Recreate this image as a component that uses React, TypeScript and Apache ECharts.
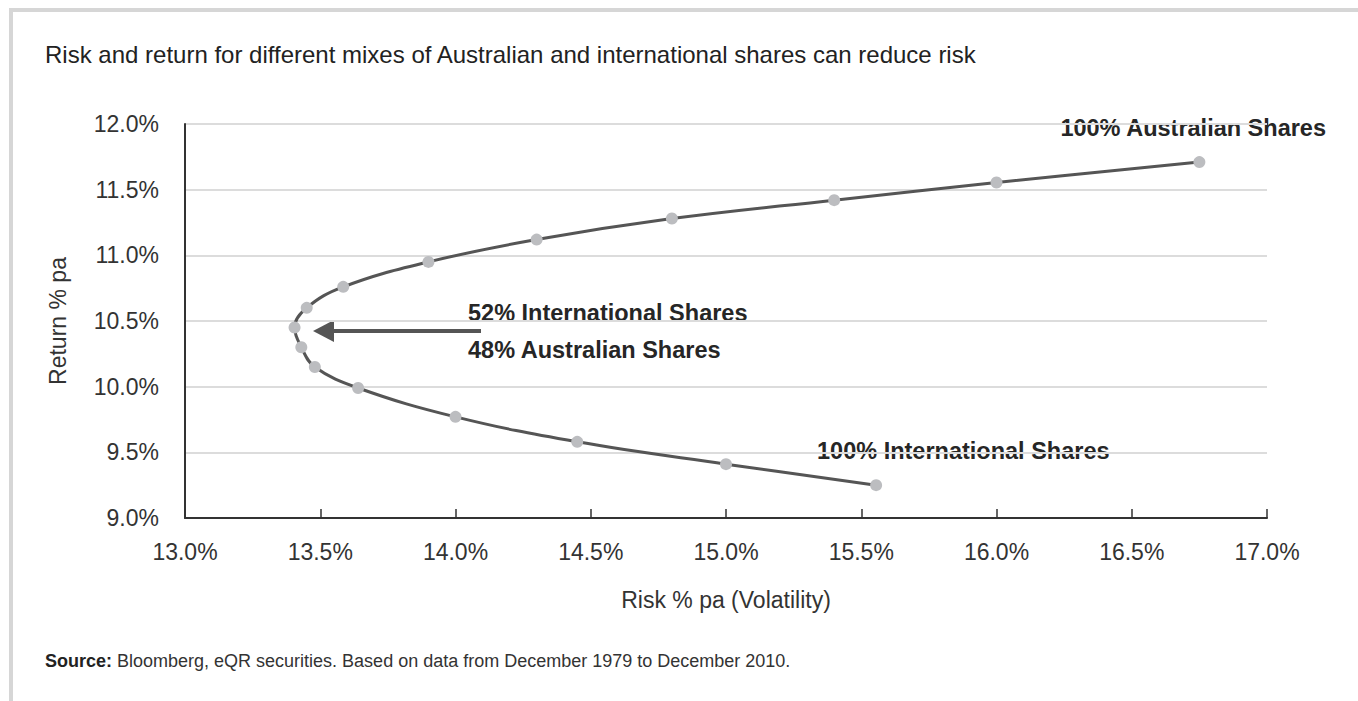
import React, { useEffect, useRef } from "react";
import * as echarts from "echarts";

const riskPct = [16.75, 16.0, 15.4, 14.8, 14.3, 13.9, 13.585, 13.45, 13.405, 13.43, 13.48, 13.64, 14.0, 14.45, 15.0, 15.555];
const returnPct = [11.71, 11.555, 11.42, 11.28, 11.12, 10.95, 10.76, 10.6, 10.45, 10.3, 10.15, 9.99, 9.77, 9.58, 9.41, 9.25];
const xTicks = { min: 13, max: 17, step: 0.5 };
const yTicks = { min: 9, max: 12, step: 0.5 };

const titleText = "Risk and return for different mixes of Australian and international shares can reduce risk";
const xName = "Risk % pa (Volatility)";
const yName = "Return % pa";
const sourceBold = "Source:";
const sourceRest = " Bloomberg, eQR securities. Based on data from December 1979 to December 2010.";
const annAus = "100% Australian Shares";
const annIntl = "100% International Shares";
const annMin1 = "52% International Shares";
const annMin2 = "48% Australian Shares";

const FONT = "'Liberation Sans', Arial, Helvetica, sans-serif";

export default function App() {
  const ref = useRef<HTMLDivElement>(null);
  useEffect(() => {
    if (!ref.current) return;
    const chart = echarts.init(ref.current, undefined, { renderer: "svg" });
    const data = riskPct.map((x, i) => [x, returnPct[i]]);
    const annStyle = { fill: "#262626", font: `bold 23.5px ${FONT}` };
    chart.setOption({
      animation: false,
      backgroundColor: "#fff",
      textStyle: { fontFamily: FONT },
      grid: { left: 185, right: 91, top: 124, bottom: 183 },
      xAxis: {
        type: "value",
        min: xTicks.min,
        max: xTicks.max,
        interval: xTicks.step,
        name: xName,
        nameLocation: "middle",
        nameGap: 70,
        nameTextStyle: { fontSize: 23, color: "#333", fontFamily: FONT },
        axisLine: { show: true, lineStyle: { color: "#333", width: 2 } },
        axisTick: { show: true, inside: true, length: 9, lineStyle: { color: "#333", width: 1.5 } },
        axisLabel: { fontSize: 23, color: "#333", margin: 22, formatter: (v: number) => v.toFixed(1) + "%" },
        splitLine: { show: false },
      },
      yAxis: {
        type: "value",
        min: yTicks.min,
        max: yTicks.max,
        interval: yTicks.step,
        name: yName,
        nameLocation: "middle",
        nameGap: 116,
        nameTextStyle: { fontSize: 23, color: "#333", fontFamily: FONT },
        axisLine: { show: true, lineStyle: { color: "#333", width: 2 } },
        axisTick: { show: false },
        axisLabel: { fontSize: 23, color: "#333", margin: 26, formatter: (v: number) => v.toFixed(1) + "%" },
        splitLine: { show: true, lineStyle: { color: "#dcdcdc", width: 2 } },
      },
      series: [
        {
          type: "line",
          data,
          smooth: 0.4,
          symbol: "circle",
          symbolSize: 12,
          itemStyle: { color: "#bcbdc0" },
          lineStyle: { color: "#555", width: 3 },
          z: 3,
        },
      ],
      graphic: [
        { type: "rect", shape: { x: 9, y: 8, width: 1349, height: 4 }, style: { fill: "#d6d6d6" }, silent: true },
        { type: "rect", shape: { x: 9, y: 8, width: 4, height: 693 }, style: { fill: "#d6d6d6" }, silent: true },
        { type: "text", x: 45, y: 54, style: { text: titleText, fill: "#222", font: `24px ${FONT}`, verticalAlign: "middle" } },
        {
          type: "text",
          x: 45,
          y: 661,
          style: {
            text: `{b|${sourceBold}}{r|${sourceRest}}`,
            verticalAlign: "middle",
            rich: {
              b: { fontWeight: "bold", fontSize: 18, fill: "#222", fontFamily: FONT },
              r: { fontSize: 18, fill: "#333", fontFamily: FONT },
            },
          },
        },
        { type: "text", x: 1326, y: 128, style: { ...annStyle, text: annAus, align: "right", verticalAlign: "middle" } },
        { type: "text", x: 817, y: 451, style: { ...annStyle, text: annIntl, align: "left", verticalAlign: "middle" } },
        { type: "text", x: 468, y: 313, style: { ...annStyle, text: annMin1, align: "left", verticalAlign: "middle" } },
        { type: "text", x: 468, y: 350, style: { ...annStyle, text: annMin2, align: "left", verticalAlign: "middle" } },
        { type: "line", shape: { x1: 481, y1: 331, x2: 330, y2: 331 }, style: { stroke: "#555", lineWidth: 4 } },
        { type: "polygon", shape: { points: [[313, 331], [334, 320], [334, 342]] }, style: { fill: "#555" } },
      ],
    });
    return () => chart.dispose();
  }, []);
  return <div ref={ref} style={{ position: "absolute", left: 0, top: 0, width: 1358, height: 701 }} />;
}
